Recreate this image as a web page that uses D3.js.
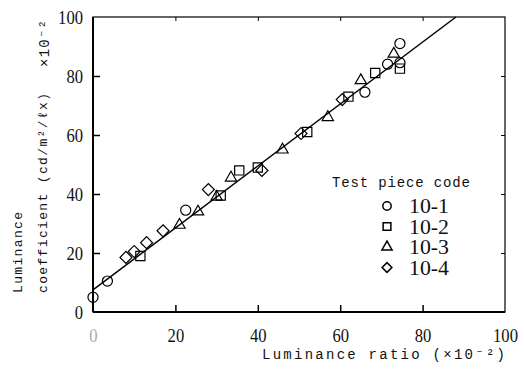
<!DOCTYPE html>
<html>
<head>
<meta charset="utf-8">
<script src="https://cdn.jsdelivr.net/npm/d3@7"></script>
<style>
  body { margin: 0; background: #fff; }
  svg { display: block; }
  .serif { font-family: "Liberation Serif", "Times New Roman", "DejaVu Serif", serif; }
  .mono { font-family: "Liberation Mono", "Courier New", "DejaVu Sans Mono", monospace; }
</style>
</head>
<body>
<div id="chart"></div>
<script>
// values: [luminance ratio, luminance coefficient] (x10^-2)
const piece101 = [[0, 5], [3.5, 10.5], [22.5, 34.5], [66, 74.5], [71.5, 84], [74.5, 84.5], [74.5, 91]];
const piece102 = [[11.5, 19], [31, 39.5], [35.5, 48], [40, 49], [52, 61], [62, 73], [68.5, 81], [74.5, 82.5]];
const piece103 = [[21, 29.5], [25.5, 34], [30, 39], [33.5, 45.5], [46, 55], [57, 66], [65, 78.5], [73, 87.5]];
const piece104 = [[8, 18.5], [10, 20.5], [13, 23.5], [17, 27.5], [28, 41.5], [41, 48], [50.5, 60.5], [60.5, 72]];
const seriesNames = ["10-1", "10-2", "10-3", "10-4"];
const xTicks = [0, 20, 40, 60, 80, 100];
const yTicks = [0, 20, 40, 60, 80, 100];
// fitted line
const fitIntercept = 7.5;
const fitSlope = 1.05;

const W = 524, H = 370;
const margin = { top: 17, right: 19, bottom: 58, left: 93 };
const width = W - margin.left - margin.right;
const height = H - margin.top - margin.bottom;

const x = d3.scaleLinear().domain([0, 100]).range([0, width]);
const y = d3.scaleLinear().domain([0, 100]).range([height, 0]);

const svg = d3.select("#chart").append("svg")
  .attr("width", W).attr("height", H);
const g = svg.append("g").attr("transform", `translate(${margin.left},${margin.top})`);

// frame
g.append("rect").attr("width", width).attr("height", height)
  .attr("fill", "none").attr("stroke", "#000").attr("stroke-width", 1.2);
g.append("line").attr("x1", 0).attr("x2", 0).attr("y1", 0).attr("y2", height)
  .attr("stroke", "#000").attr("stroke-width", 2);
g.append("line").attr("x1", 0).attr("x2", width).attr("y1", height).attr("y2", height)
  .attr("stroke", "#000").attr("stroke-width", 2);

// axes with inward ticks
const xAxis = g.append("g").attr("transform", `translate(0,${height})`)
  .call(d3.axisBottom(x).tickValues(xTicks).tickSize(-7).tickPadding(16.5).tickSizeOuter(0));
const yAxis = g.append("g")
  .call(d3.axisLeft(y).tickValues(yTicks).tickSize(-7).tickPadding(10).tickSizeOuter(0));
[xAxis, yAxis].forEach(a => {
  a.attr("font-family", null).attr("font-size", null);
  a.select(".domain").remove();
  a.selectAll(".tick line").attr("stroke", "#000").attr("stroke-width", 1.5);
  a.selectAll(".tick text").attr("class", "serif").style("font-size", "19px")
    .attr("fill", "#111")
    .attr("textLength", d => String(d).length * 8.3)
    .attr("lengthAdjust", "spacingAndGlyphs");
});
yAxis.selectAll(".tick text").attr("dy", "0.36em");
xAxis.selectAll(".tick").filter(d => d === 0 || d === 100).select("line").remove();
yAxis.selectAll(".tick").filter(d => d === 0 || d === 100).select("line").remove();
xAxis.selectAll(".tick").filter(d => d === 0).select("text").attr("fill", "#aaa");

// short ticks on top and right
g.append("g").call(d3.axisTop(x).tickValues([20, 40, 60, 80]).tickSize(-4).tickFormat(""))
  .call(a => a.select(".domain").remove());
g.append("g").attr("transform", `translate(${width},0)`)
  .call(d3.axisRight(y).tickValues([20, 40, 60, 80]).tickSize(-4).tickFormat(""))
  .call(a => a.select(".domain").remove());

// fitted line
const xEnd = (100 - fitIntercept) / fitSlope;
g.append("line")
  .attr("x1", x(0)).attr("y1", y(fitIntercept))
  .attr("x2", x(xEnd)).attr("y2", y(100))
  .attr("stroke", "#000").attr("stroke-width", 1.5);

// markers
const shapes = [
  d3.symbol().type(d3.symbolCircle).size(80),
  d3.symbol().type(d3.symbolSquare).size(85),
  d3.symbol().type(d3.symbolTriangle).size(55),
  d3.symbol().type(d3.symbolSquare).size(72)
];
const rotations = [0, 0, 0, 45];
[piece101, piece102, piece103, piece104].forEach((data, i) => {
  g.append("g").selectAll("path").data(data).join("path")
    .attr("d", shapes[i])
    .attr("transform", d => `translate(${x(d[0])},${y(d[1])}) rotate(${rotations[i]})`)
    .attr("fill", "none").attr("stroke", "#000").attr("stroke-width", 1.2);
});

// legend
g.append("text").attr("class", "mono").attr("x", 239).attr("y", 170)
  .style("font-size", "14px")
  .attr("textLength", 138).attr("fill", "#111")
  .text("Test piece code");
const legendSymbols = [
  d3.symbol().type(d3.symbolCircle).size(55),
  d3.symbol().type(d3.symbolSquare).size(60),
  d3.symbol().type(d3.symbolTriangle).size(45),
  d3.symbol().type(d3.symbolSquare).size(48)
];
seriesNames.forEach((name, i) => {
  const cy = 189 + i * 20.5;
  g.append("path").attr("d", legendSymbols[i])
    .attr("transform", `translate(${294},${cy}) rotate(${rotations[i]})`)
    .attr("fill", "none").attr("stroke", "#000").attr("stroke-width", 1.5);
  g.append("text").attr("class", "serif").attr("x", 316).attr("y", cy + 7)
    .style("font-size", "20px")
    .attr("textLength", 40).attr("lengthAdjust", "spacingAndGlyphs")
    .attr("fill", "#111")
    .text(name);
});

// axis titles
svg.append("text").attr("class", "mono").attr("x", 262).attr("y", 359)
  .style("font-size", "14px")
  .attr("textLength", 243).attr("fill", "#111")
  .text("Luminance ratio (×10⁻²)");

svg.append("text").attr("class", "mono").attr("transform", "translate(22,293) rotate(-90)")
  .style("font-size", "13px")
  .attr("textLength", 81).attr("fill", "#111")
  .text("Luminance");
svg.append("text").attr("class", "mono").attr("transform", "translate(47,293) rotate(-90)")
  .style("font-size", "13px")
  .attr("textLength", 200).attr("fill", "#111")
  .text("coefficient (cd/m²/ℓx)");
svg.append("text").attr("class", "mono").attr("transform", "translate(49,67) rotate(-90)")
  .style("font-size", "14px")
  .attr("textLength", 47).attr("fill", "#111")
  .text("×10⁻²");
</script>
</body>
</html>
